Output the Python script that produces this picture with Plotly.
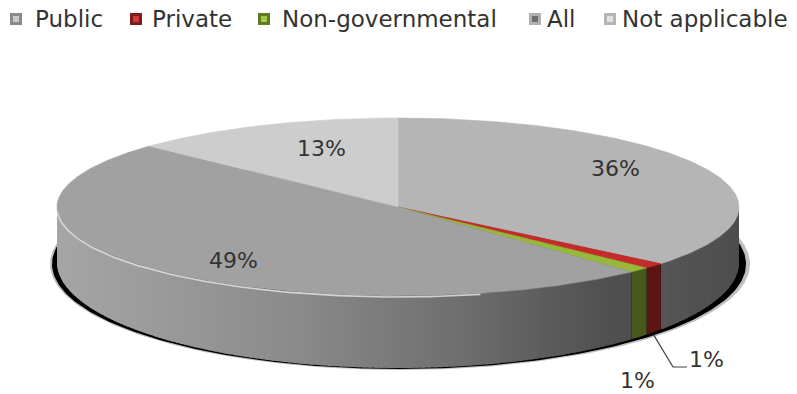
import numpy as np
import plotly.graph_objects as go

# ---- data -------------------------------------------------------------
categories = ["Public", "Private", "Non-governmental", "All", "Not applicable"]
shares = [36, 1, 1, 49, 13]          # percent of respondents
top_colors = ["#b5b5b5", "#c42b2b", "#97b83b", "#a1a1a1", "#cdcdcd"]
icon_fill = ["#c9c9c9", "#d23a36", "#a6c94a", "#6e6e6e", "#e2e2e2"]
icon_edge = ["#8a8a8a", "#7d1c1c", "#5f7a22", "#b0b0b0", "#b5b5b5"]

# ---- layout constants (canvas is mapped 1:1 to pixels) ----------------
W, H = 797, 394
CX, RX = 398, 341
TOP_CY, TOP_RY = 207, 89        # upper face of the disc
BOT_CY, BOT_RY = 262, 106       # lower rim (perspective makes it rounder)
FONT = "DejaVu Sans"
TEXT = "#333333"

label_xy = [(615, 168), (706, 359), (637, 380), (233, 260), (321, 148)]
legend_icon_x = [10, 130, 258, 529, 604]
legend_text_x = [33, 150, 280, 545, 620]
LEGEND_Y = 19


def hex_rgb(h):
    h = h.lstrip("#")
    return np.array([int(h[i:i + 2], 16) for i in (0, 2, 4)], dtype=float)


def rgb_str(c):
    c = np.clip(c, 0, 255).round().astype(int)
    return f"rgb({c[0]},{c[1]},{c[2]})"


def side_shade(u):
    # light from the left: the wall darkens toward the right-hand side
    return np.interp(u, [-1.0, -0.3, 0.15, 0.6, 1.0], [1.03, 0.86, 0.70, 0.50, 0.43])


def top_pt(theta):
    t = np.radians(theta)
    return CX + RX * np.sin(t), TOP_CY - TOP_RY * np.cos(t)


def bot_pt(theta):
    t = np.radians(theta)
    return CX + RX * np.sin(t), BOT_CY - BOT_RY * np.cos(t)


# slice angles, clockwise from 12 o'clock
total = float(sum(shares))
bounds = np.concatenate([[0.0], np.cumsum(shares) / total * 360.0])

fig = go.Figure()

# drop shadow under the disc
tt = np.radians(np.linspace(0, 360, 361))
fig.add_trace(go.Scatter(
    x=400 + 350 * np.sin(tt), y=264 + 106 * np.cos(tt),
    mode="lines", fill="toself", fillcolor="rgba(0,0,0,0.25)",
    line=dict(width=0), hoverinfo="skip"))
fig.add_trace(go.Scatter(
    x=399 + 347 * np.sin(tt), y=264 + 105 * np.cos(tt),
    mode="lines", fill="toself", fillcolor="#000000",
    line=dict(width=0), hoverinfo="skip"))

# front wall, drawn as thin overlapping shaded strips per slice
for i, cat in enumerate(categories):
    a0, a1 = max(bounds[i], 90.0), min(bounds[i + 1], 270.0)
    if a1 <= a0:
        continue
    n = max(2, int(np.ceil(a1 - a0)))
    edges = np.linspace(a0, a1, n + 1)
    base = hex_rgb(top_colors[i])
    for k, (s0, s1) in enumerate(zip(edges[:-1], edges[1:])):
        if k < n - 1:
            px_per_deg = RX * abs(np.cos(np.radians(s1))) * np.pi / 180
            s1e = s1 + min(3.0, max(0.35, 1.2 / max(px_per_deg, 1e-6)))
            s1e = min(s1e, a1)
        else:
            s1e = s1
        seg = np.array([s0, s1e])
        xs, yts = top_pt(seg)
        _, ybs = bot_pt(seg)
        u = np.sin(np.radians((s0 + s1) / 2))
        col = rgb_str(base * side_shade(u))
        fig.add_trace(go.Scatter(
            x=[xs[0], xs[1], xs[1], xs[0], xs[0]],
            y=[yts[0], yts[1], ybs[1], ybs[0], yts[0]],
            mode="lines", fill="toself", fillcolor=col,
            line=dict(width=0), hoverinfo="skip"))

# upper face wedges
for i, cat in enumerate(categories):
    arc = np.linspace(bounds[i], bounds[i + 1], max(3, int((bounds[i + 1] - bounds[i]) * 2)))
    px, py = top_pt(arc)
    fig.add_trace(go.Scatter(
        x=np.concatenate([[CX], px, [CX]]), y=np.concatenate([[TOP_CY], py, [TOP_CY]]),
        mode="lines", fill="toself", fillcolor=top_colors[i],
        line=dict(width=0.6, color=top_colors[i]), name=cat, hoverinfo="name"))

# bevel highlight along the front rim
rim = np.linspace(166, 268, 120)
hx, hy = top_pt(rim)
fig.add_trace(go.Scatter(x=hx, y=hy + 1, mode="lines",
                         line=dict(width=1.6, color="rgba(225,225,225,0.85)"),
                         hoverinfo="skip"))

# leader line for the Private share
mid_priv = (bounds[1] + bounds[2]) / 2
sx, sy = bot_pt(mid_priv)
lx, ly = label_xy[1]
fig.add_trace(go.Scatter(x=[sx, lx - 33, lx - 19], y=[sy + 3, ly + 8, ly + 8],
                         mode="lines", line=dict(width=1.2, color="#404040"),
                         hoverinfo="skip"))

annotations = []
for (x, y), v in zip(label_xy, shares):
    annotations.append(dict(x=x, y=y, text=f"{v}%", showarrow=False,
                            xanchor="center", yanchor="middle",
                            font=dict(family=FONT, size=22, color=TEXT)))

shapes = []
for i, cat in enumerate(categories):
    ix = legend_icon_x[i]
    shapes.append(dict(type="rect", x0=ix, x1=ix + 12, y0=LEGEND_Y - 6, y1=LEGEND_Y + 6,
                       fillcolor=icon_edge[i], line=dict(width=0)))
    shapes.append(dict(type="rect", x0=ix + 3, x1=ix + 9, y0=LEGEND_Y - 3, y1=LEGEND_Y + 3,
                       fillcolor=icon_fill[i], line=dict(width=0)))
    annotations.append(dict(x=legend_text_x[i], y=LEGEND_Y, text=cat, showarrow=False,
                            xanchor="left", yanchor="middle",
                            font=dict(family=FONT, size=23, color=TEXT)))

fig.update_layout(
    width=W, height=H, autosize=False,
    margin=dict(l=0, r=0, t=0, b=0),
    paper_bgcolor="white", plot_bgcolor="white",
    showlegend=False,
    xaxis=dict(range=[0, W], visible=False, fixedrange=True),
    yaxis=dict(range=[H, 0], visible=False, fixedrange=True),
    annotations=annotations, shapes=shapes,
)

fig.write_html("out.html")
